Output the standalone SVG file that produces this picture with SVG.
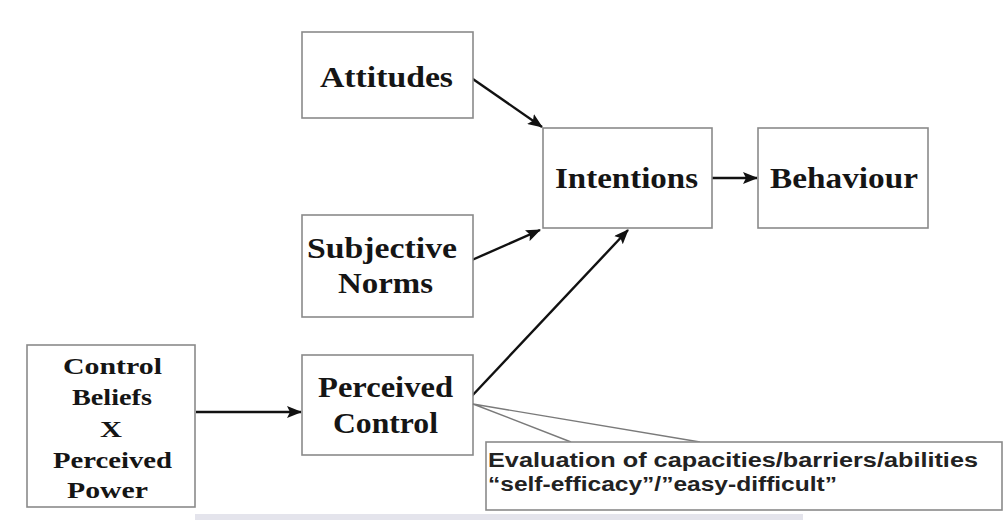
<svg xmlns="http://www.w3.org/2000/svg" width="1005" height="520" viewBox="0 0 1005 520">
<style>
.box{fill:#ffffff;stroke:#8a8a8a;stroke-width:1.6}
.t{font-family:"Liberation Serif","Times New Roman",serif;font-weight:bold;fill:#151515;text-anchor:middle}
.big{font-size:30px}
.small{font-size:24px}
.note{font-family:"Liberation Sans",Arial,sans-serif;font-weight:bold;font-size:20px;fill:#222222}
.arrow{stroke:#111111;stroke-width:2.4;fill:none;marker-end:url(#ah)}
.call{stroke:#7a7a7a;stroke-width:1.4;fill:none}
</style>
<defs>
<marker id="ah" markerUnits="userSpaceOnUse" markerWidth="16" markerHeight="12" refX="14" refY="6" orient="auto">
<path d="M0,0 L15,6 L0,12 L3,6 Z" fill="#111111"/>
</marker>
</defs>
<rect x="0" y="0" width="1005" height="520" fill="#ffffff"/>
<rect x="195" y="514" width="608" height="6" fill="#e4e4ec"/>

<g id="connectors">
<line class="arrow" x1="470" y1="77" x2="542" y2="127"/>
<line class="arrow" x1="472" y1="260" x2="540" y2="230"/>
<line class="arrow" x1="470" y1="398" x2="628" y2="230"/>
<line class="arrow" x1="712" y1="178" x2="757" y2="178"/>
<line class="arrow" x1="196" y1="412" x2="301" y2="412"/>
</g>

<g id="attitudes">
<rect class="box" x="302" y="32" width="171" height="86"/>
<text class="t big" x="386.5" y="87" textLength="133" lengthAdjust="spacingAndGlyphs">Attitudes</text>
</g>

<g id="subjective-norms">
<rect class="box" x="302" y="215" width="171" height="102"/>
<text class="t big" x="382" y="258" textLength="150" lengthAdjust="spacingAndGlyphs">Subjective</text>
<text class="t big" x="385.5" y="293" textLength="95" lengthAdjust="spacingAndGlyphs">Norms</text>
</g>

<g id="intentions">
<rect class="box" x="543" y="128" width="169" height="100"/>
<text class="t big" x="626.5" y="188" textLength="143" lengthAdjust="spacingAndGlyphs">Intentions</text>
</g>

<g id="behaviour">
<rect class="box" x="758" y="128" width="170" height="100"/>
<text class="t big" x="844" y="188" textLength="148" lengthAdjust="spacingAndGlyphs">Behaviour</text>
</g>

<g id="perceived-control">
<rect class="box" x="302" y="355" width="171" height="100"/>
<text class="t big" x="385.5" y="397" textLength="135" lengthAdjust="spacingAndGlyphs">Perceived</text>
<text class="t big" x="385.5" y="433" textLength="105" lengthAdjust="spacingAndGlyphs">Control</text>
</g>

<g id="control-beliefs">
<rect class="box" x="27" y="345" width="168" height="162"/>
<text class="t small" x="112.5" y="374" textLength="99" lengthAdjust="spacingAndGlyphs">Control</text>
<text class="t small" x="112" y="405" textLength="80" lengthAdjust="spacingAndGlyphs">Beliefs</text>
<text class="t small" x="111" y="437" textLength="22" lengthAdjust="spacingAndGlyphs">X</text>
<text class="t small" x="112.5" y="468" textLength="119" lengthAdjust="spacingAndGlyphs">Perceived</text>
<text class="t small" x="107.5" y="498" textLength="81" lengthAdjust="spacingAndGlyphs">Power</text>
</g>

<g id="callout">
<polyline class="call" points="571,442 473,404 700,442"/>
<rect class="box" x="486" y="442" width="516" height="68"/>
<text class="note" x="488" y="467" textLength="490" lengthAdjust="spacingAndGlyphs">Evaluation of capacities/barriers/abilities</text>
<text class="note" x="488" y="491" textLength="349" lengthAdjust="spacingAndGlyphs">“self-efficacy”/”easy-difficult”</text>
</g>
</svg>
